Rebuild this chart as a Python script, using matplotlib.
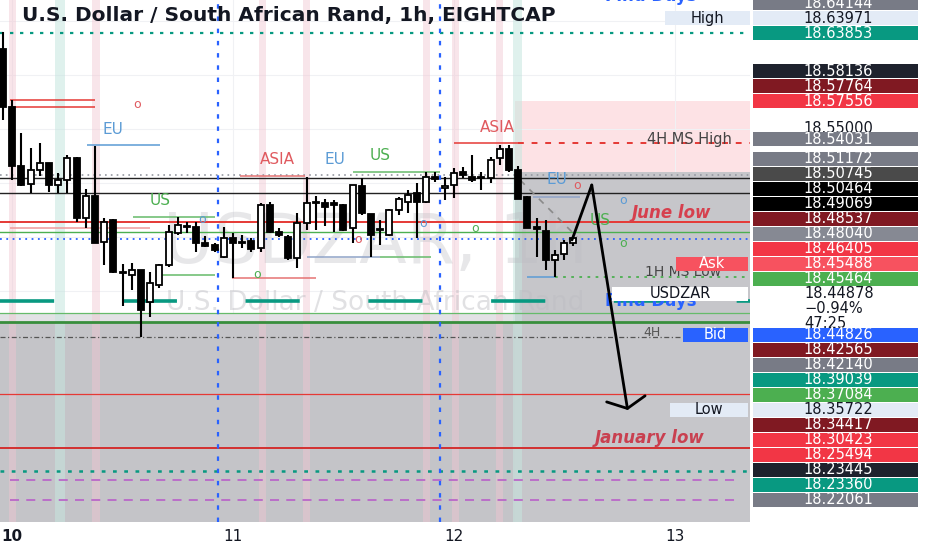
import numpy as np
import matplotlib
matplotlib.use("Agg")
import matplotlib.pyplot as plt
from matplotlib.patches import Rectangle

# ---------------- data ----------------
hours = np.arange(-1, 62)  # hourly candles, 0 = day 10 00:00

opens = [18.6240, 18.5703, 18.5156, 18.4990, 18.5119, 18.5180, 18.4980, 18.5027, 18.5230, 18.4675,
         18.4878, 18.4452, 18.4656, 18.4165, 18.4147, 18.4193, 18.3897, 18.4054, 18.4240, 18.4536,
         18.4601, 18.4591, 18.4443, 18.4425, 18.4314, 18.4490, 18.4443, 18.4462, 18.4397, 18.4795,
         18.4545, 18.4499, 18.4304, 18.4628, 18.4823, 18.4814, 18.4814, 18.4795, 18.4582, 18.4971,
         18.4708, 18.4564, 18.4517, 18.4749, 18.4823, 18.4906, 18.4823, 18.5054, 18.4953, 18.4980,
         18.5101, 18.5054, 18.5045, 18.5045, 18.5230, 18.5314, 18.5119, 18.4869, 18.4591, 18.4554,
         18.4286, 18.4341, 18.4443]
highs = [18.6397, 18.5767, 18.5462, 18.5323, 18.5369, 18.5184, 18.5091, 18.5258, 18.5235, 18.4943,
         18.5341, 18.4675, 18.4665, 18.4249, 18.4258, 18.4195, 18.4175, 18.4245, 18.4610, 18.4684,
         18.4638, 18.4638, 18.4508, 18.4443, 18.4591, 18.4536, 18.4517, 18.4490, 18.4814, 18.4823,
         18.4582, 18.4520, 18.4721, 18.5054, 18.4878, 18.4851, 18.4841, 18.4804, 18.4980, 18.5045,
         18.4712, 18.4656, 18.4758, 18.4869, 18.4934, 18.4999, 18.5101, 18.5101, 18.5054, 18.5138,
         18.5147, 18.5258, 18.5101, 18.5240, 18.5351, 18.5351, 18.5156, 18.4878, 18.4675, 18.4656,
         18.4378, 18.4471, 18.4499]
lows = [18.5582, 18.5027, 18.4975, 18.4906, 18.5064, 18.4916, 18.4906, 18.4906, 18.4638, 18.4582,
        18.4440, 18.4240, 18.4170, 18.3860, 18.4008, 18.3573, 18.3758, 18.4027, 18.4221, 18.4517,
        18.4536, 18.4360, 18.4406, 18.4360, 18.4304, 18.4119, 18.4397, 18.4360, 18.4360, 18.4536,
        18.4499, 18.4286, 18.4212, 18.4564, 18.4564, 18.4601, 18.4545, 18.4554, 18.4443, 18.4702,
        18.4314, 18.4425, 18.4512, 18.4702, 18.4721, 18.4490, 18.4814, 18.5008, 18.4841, 18.4860,
        18.5045, 18.5008, 18.4934, 18.4999, 18.5166, 18.5101, 18.4848, 18.4578, 18.4314, 18.4193,
        18.4128, 18.4286, 18.4415]
closes = [18.5703, 18.5156, 18.4980, 18.5119, 18.5184, 18.4980, 18.5027, 18.5230, 18.4675, 18.4878,
          18.4443, 18.4638, 18.4175, 18.4175, 18.4193, 18.3823, 18.4073, 18.4240, 18.4545, 18.4610,
          18.4597, 18.4443, 18.4415, 18.4378, 18.4490, 18.4443, 18.4452, 18.4388, 18.4795, 18.4545,
          18.4517, 18.4304, 18.4628, 18.4814, 18.4814, 18.4777, 18.4795, 18.4564, 18.4980, 18.4721,
          18.4517, 18.4573, 18.4749, 18.4851, 18.4888, 18.4823, 18.5054, 18.5036, 18.4971, 18.5091,
          18.5073, 18.5027, 18.5054, 18.5212, 18.5314, 18.5119, 18.4851, 18.4582, 18.4573, 18.4286,
          18.4332, 18.4443, 18.4488]

day_ticks = [0, 24, 48, 72]
day_labels = ["10", "11", "12", "13"]

# full-width horizontal levels
full_prices = [18.63853, 18.50745, 18.50464, 18.49069, 18.46405, 18.45464, 18.44826,
               18.39039, 18.37950, 18.37084, 18.35722, 18.30423, 18.25494, 18.23360]
purple_prices = [18.22500, 18.20680]

# partial session segments
seg_prices = [18.5767, 18.5703, 18.5351, 18.4687, 18.5101, 18.5064, 18.4147,
              18.4119, 18.4314, 18.4314, 18.5366, 18.4585, 18.4128, 18.4869]
seg_start = [-0.2, -0.2, 8.1, 13.1, 37.0, 24.8, 16.0, 23.9, 32.0, 40.0, 48.0, -0.2, 56.0, 56.6]
seg_end = [9.0, 9.0, 16.1, 22.0, 46.5, 31.8, 22.0, 33.0, 40.0, 45.5, 55.0, 15.0, 59.0, 61.7]

ms_high_price = 18.5366
ms_low_price = 18.4128
ms_start_hours = [55.0, 59.0]

pink_zone = [18.5101, 18.57556]
right_zone_top = 18.5101
left_zone_top = 18.37084
left_light_top = 18.3795
zone_start_hour = 54.65

pink_stripe_hours = [0.0, 9.1, 27.2, 32.0, 45.0, 48.2, 53.0]
teal_stripe_hours = [5.2, 54.9]
divider_hours = [22.4, 46.5]

arrow_hours = [60.85, 63.0, 66.9]
arrow_prices = [18.4471, 18.4980, 18.2897]
diag_hours = [55.2, 61.4]
diag_prices = [18.5027, 18.4499]

sess_text = ["EU", "o", "US", "o", "ASIA", "EU", "US", "ASIA", "o", "o", "o", "o",
             "EU", "o", "o", "US", "o"]
sess_hours = [10.96, 13.57, 16.07, 20.6, 28.8, 35.1, 40.0, 52.7, 26.6, 37.6, 44.7, 50.3,
              59.2, 61.4, 66.4, 63.9, 66.4]
sess_prices = [18.5490, 18.5721, 18.4841, 18.4665, 18.5212, 18.5212, 18.5249, 18.5508,
               18.4156, 18.4471, 18.4628, 18.4582, 18.5027, 18.4971, 18.4841, 18.4656, 18.4434]
sess_kind = ["b", "r", "g", "b", "r", "b", "g", "r", "g", "r", "b", "g", "b", "r", "b", "g", "g"]

axis_prices = [18.64144, 18.63971, 18.63853, 18.58136, 18.57764, 18.57556, 18.55000, 18.54031,
               18.51172, 18.50745, 18.50464, 18.49069, 18.48537, 18.48040, 18.46405, 18.45488,
               18.45464, 18.44878, 18.44826, 18.42565, 18.42140, 18.39039, 18.37084, 18.35722,
               18.34417, 18.30423, 18.25494, 18.23445, 18.23360, 18.22061]
change_text = ["\u22120.94%", "47:25"]

# ---------------- styles ----------------
full_colors = ['#089981', '#9598a1', '#222222', '#222222', '#e53935', '#4caf50', '#2962ff',
               '#089981', '#66bb6a', '#388e3c', '#555555', '#e53935', '#d32f2f', '#089981']
full_styles = [(0, (1.5, 3)), (0, (1, 2.5)), '-', '-', '-', '-', (0, (1, 2.5)),
               (0, (15, 19)), '-', '-', (0, (4, 2, 1, 2)), '-', '-', (0, (1.5, 3))]
full_widths = [1.6, 1.2, 1.0, 1.0, 1.4, 1.0, 1.3, 2.6, 0.9, 2.0, 0.9, 0.9, 1.4, 1.8]
seg_colors = ['#e53935', '#e53935', '#5b9bd5', '#66bb6a', '#66bb6a', '#e57373', '#66bb6a',
              '#e57373', '#90a4c8', '#66bb6a', '#e53935', '#ef9a9a', '#5b9bd5', '#90a4c8']
txt_col = {"b": '#5b9bd5', "r": '#e05a5f', "g": '#4caf50'}

axis_bg = ['#787b86', '#e3ebf6', '#089981', '#1e222d', '#801922', '#f23645', 'white', '#787b86',
           '#787b86', '#4a4a4a', '#000000', '#000000', '#801922', '#868993', '#f23645', '#f7525f',
           '#4caf50', 'white', '#2962ff', '#801922', '#787b86', '#089981', '#4caf50', '#e3ebf6',
           '#801922', '#f23645', '#f23645', '#1e222d', '#089981', '#787b86']
dark_text = {1, 6, 17, 23}

W, H = 932, 550
PR, PB = 750, 28
fig = plt.figure(figsize=(W / 100, H / 100), dpi=100)
fig.patch.set_facecolor('white')
ax = fig.add_axes([0, PB / H, PR / W, 1 - PB / H])
X0, X1 = -1.33, 80.2
Y0, Y1 = 18.1860, 18.6693
ax.set_xlim(X0, X1)
ax.set_ylim(Y0, Y1)
for s in ax.spines.values():
    s.set_visible(False)
ax.set_yticks(np.arange(18.20, 18.651, 0.05))
ax.tick_params(axis='y', left=False, labelleft=False)
ax.set_xticks(day_ticks)
ax.set_xticklabels(day_labels)
ax.tick_params(axis='x', length=0, pad=5, labelsize=11, labelcolor='#131722')
ax.get_xticklabels()[0].set_fontweight('bold')
ax.grid(True, color='#f0f1f4', lw=0.8)
ax.set_axisbelow(True)

# zones
ax.add_patch(Rectangle((zone_start_hour, pink_zone[0]), X1 - zone_start_hour,
                       pink_zone[1] - pink_zone[0], color='#fde2e5', lw=0, zorder=0.5))
ax.add_patch(Rectangle((zone_start_hour, Y0), X1 - zone_start_hour, right_zone_top - Y0,
                       color='#c6c6ca', lw=0, zorder=0.6))
ax.add_patch(Rectangle((X0, Y0), zone_start_hour - X0, left_zone_top - Y0,
                       color='#c4c4c8', lw=0, zorder=0.6))
ax.add_patch(Rectangle((X0, left_zone_top), zone_start_hour - X0, left_light_top - left_zone_top,
                       color='#e2e2e5', lw=0, zorder=0.6))
for h in pink_stripe_hours:
    ax.axvspan(h - 0.4, h + 0.4, color='#f1c6d1', alpha=0.45, lw=0, zorder=0.8)
for h in teal_stripe_hours:
    ax.axvspan(h - 0.5, h + 0.5, color='#c6e6df', alpha=0.55, lw=0, zorder=0.8)

# watermark
ax.text(39.5, 18.4440, "USDZAR, 1h", fontsize=50, color='#bdbdc2', alpha=0.35,
        ha='center', va='center', zorder=1)
ax.text(39.5, 18.3890, "U.S. Dollar / South African Rand", fontsize=19, color='#bdbdc2',
        alpha=0.45, ha='center', va='center', zorder=1)

# levels
for p, c, st, w in zip(full_prices, full_colors, full_styles, full_widths):
    ax.axhline(p, color=c, ls=st, lw=w, zorder=3)
for p in purple_prices:
    ax.hlines(p, -0.2, 78.6, color='#ba68c8', ls=(0, (5, 4)), lw=1.3, zorder=3)
for p, a, b, c in zip(seg_prices, seg_start, seg_end, seg_colors):
    ax.hlines(p, a, b, color=c, lw=1.1, zorder=3)
ax.hlines(ms_high_price, ms_start_hours[0], X1, color='#e53935', ls=(0, (3, 4)), lw=1.4, zorder=3)
ax.hlines(ms_low_price, ms_start_hours[1], X1, color='#4caf50', ls=(0, (1.5, 3)), lw=1.3, zorder=3)
for h in divider_hours:
    ax.axvline(h, color='#2962ff', ls=(0, (2, 3.5)), lw=1.6, zorder=3)
ax.plot(diag_hours, diag_prices, color='#8a8a8a', ls=(0, (4, 4)), lw=1.2, zorder=3)

# session texts
for t, x, p, k in zip(sess_text, sess_hours, sess_prices, sess_kind):
    ax.text(x, p, t, color=txt_col[k], fontsize=9 if t == "o" else 11, ha='center',
            va='center', zorder=4)
ax.text(71.7, 18.4721, "June low", color='#d6404e', fontsize=12, fontweight='bold',
        fontstyle='italic', ha='center', va='center', zorder=4)
ax.text(69.3, 18.2637, "January low", color='#c94050', fontsize=12, fontweight='bold',
        fontstyle='italic', ha='center', va='center', zorder=4)
ax.text(69.0, 18.5397, "4H MS High", color='#444444', fontsize=10.5, va='center', zorder=4,
        clip_on=True)
ax.text(68.8, 18.4175, "1H MS Low", color='#444444', fontsize=10, va='center', zorder=4,
        clip_on=True)
ax.text(68.6, 18.3610, "4H", color='#555555', fontsize=9, va='center', zorder=4)
ax.text(64.4, 18.6730, "Find Days", color='#2962ff', fontsize=12, fontweight='bold',
        va='center', zorder=4, clip_on=False)
ax.text(64.4, 18.3905, "Find Days", color='#2962ff', fontsize=12, fontweight='bold',
        va='center', zorder=4)

# candles
o = np.array(opens); c = np.array(closes)
hi = np.array(highs); lo = np.array(lows)
up = c >= o
ax.vlines(hours, lo, hi, color='black', lw=1.5, zorder=5)
body_h = np.maximum(np.abs(c - o), 0.0008)
body_b = (o + c) / 2 - body_h / 2
ax.bar(hours[up], body_h[up], bottom=body_b[up], width=0.66, color='white',
       edgecolor='black', linewidth=1.3, zorder=6)
ax.bar(hours[~up], body_h[~up], bottom=body_b[~up], width=0.66, color='black',
       edgecolor='black', linewidth=1.3, zorder=6)

# projected path
ax.plot(arrow_hours[:2], arrow_prices[:2], color='black', lw=2, zorder=7,
        solid_capstyle='round')
ax.annotate('', xy=(arrow_hours[2], arrow_prices[2]), xytext=(arrow_hours[1], arrow_prices[1]),
            arrowprops=dict(arrowstyle='->,head_length=0.35,head_width=0.7', color='black',
                            lw=2, mutation_scale=20, shrinkA=0, shrinkB=0), zorder=7)

# ---------------- price-scale labels ----------------
n = len(axis_prices)
ideal = [H - ax.transData.transform((0, p))[1] for p in axis_prices]
ups = [7.5] * n
downs = [7.5] * n
downs[17] = 33.5
placed = {}
seq = []
for i in range(n):
    if i == 6:
        continue
    y = ideal[i]
    if not seq:
        placed[i] = y
        seq.append(i)
        continue
    j = seq[-1]
    need = downs[j] + ups[i]
    if y - placed[j] >= need:
        placed[i] = y
    else:
        s = need - (y - placed[j])
        g = len(seq) - 1
        while g > 0:
            a, b = seq[g - 1], seq[g]
            if abs(placed[b] - placed[a] - (downs[a] + ups[b])) < 0.01:
                g -= 1
            else:
                break
        first = seq[g]
        limit = placed[seq[g - 1]] + downs[seq[g - 1]] if g > 0 else -12
        room = placed[first] - ups[first] - limit
        if room >= s:
            for m in seq[g:]:
                placed[m] -= s
            placed[i] = y
        else:
            placed[i] = placed[j] + need
    seq.append(i)
placed[6] = ideal[6]


def fy(ypx):
    return 1 - ypx / H


LX0, LW_ = 753, 165
for i in [6] + seq:
    yc = placed[i]
    p = axis_prices[i]
    fg = '#131722' if i in dark_text else 'white'
    if axis_bg[i] != 'white':
        fig.add_artist(Rectangle((LX0 / W, fy(yc + 7)), LW_ / W, 14 / H, transform=fig.transFigure,
                                 color=axis_bg[i], lw=0, zorder=3))
    elif i == 17:
        fig.add_artist(Rectangle((LX0 / W, fy(yc + 7)), LW_ / W, 14 / H, transform=fig.transFigure,
                                 color='white', lw=0, zorder=3))
    if i == 17:
        fig.text(804 / W, fy(yc), f"{p:.5f}", ha='left', va='center', fontsize=10.5,
                 color=fg, zorder=4)
        for k, t in enumerate(change_text):
            fig.text(804 / W, fy(yc + 15 * (k + 1)), t, ha='left', va='center', fontsize=10.5,
                     color=fg, zorder=4)
    else:
        fig.text(838 / W, fy(yc), f"{p:.5f}", ha='center', va='center', fontsize=10.5,
                 color=fg, zorder=2 if i == 6 else 4)

# inline labels beside the price scale
inline = {1: ("High", 665, 750, '#e3ebf6', '#131722'),
          15: ("Ask", 676, 748, '#f7525f', 'white'),
          17: ("USDZAR", 612, 748, 'white', '#131722'),
          18: ("Bid", 683, 748, '#2962ff', 'white'),
          23: ("Low", 670, 748, '#e3ebf6', '#131722')}
for i, (t, a, b, bg, fg) in inline.items():
    yc = placed[i]
    fig.add_artist(Rectangle((a / W, fy(yc + 7)), (b - a) / W, 14 / H, transform=fig.transFigure,
                             color=bg, lw=0, zorder=3))
    fig.text((a + b) / 2 / W, fy(yc), t, ha='center', va='center', fontsize=10.5, color=fg,
             zorder=4)

fig.text(22 / W, fy(15), "U.S. Dollar / South African Rand, 1h, EIGHTCAP", fontsize=14.5,
         fontweight='bold', color='#131722', va='center', zorder=10)

fig.savefig("out.png", dpi=100, facecolor='white')
